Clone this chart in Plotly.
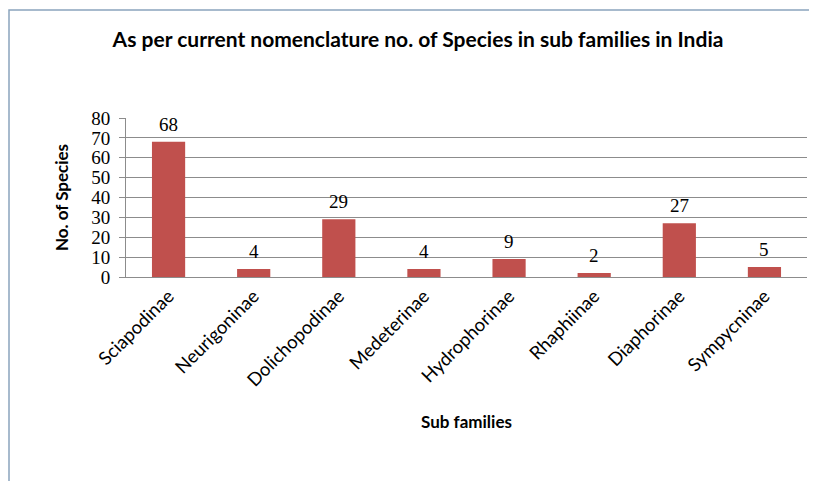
import plotly.graph_objects as go

categories = ["Sciapodinae", "Neurigoninae", "Dolichopodinae", "Medeterinae",
              "Hydrophorinae", "Rhaphiinae", "Diaphorinae", "Sympycninae"]
species = [68, 4, 29, 4, 9, 2, 27, 5]
y_ticks = [0, 10, 20, 30, 40, 50, 60, 70, 80]

W, H = 817, 481
OFF = 8  # page body offset
L, T = 126 - OFF, 118 - OFF
R = W - (807 - OFF)
B = H - (277 - OFF)
pw = W - L - R
ph = H - T - B

fig = go.Figure(go.Bar(
    x=categories, y=species,
    marker=dict(color="#C0504D", line=dict(width=0)),
    width=0.39,
))

for c, v in zip(categories, species):
    fig.add_annotation(x=c, y=v, text=str(v), showarrow=False,
                       yanchor="bottom", yshift=5,
                       font=dict(family="Liberation Serif", size=19, color="#000000"))

fig.update_layout(
    width=W, height=H,
    margin=dict(l=L, r=R, t=T, b=B, autoexpand=False),
    paper_bgcolor="white", plot_bgcolor="white",
    showlegend=False,
    title=dict(text="<b>As per current nomenclature no. of Species in sub families in India</b>",
               x=(418 - OFF - L) / pw, xref="paper", xanchor="center",
               y=1 - (40 - OFF) / H, yref="container", yanchor="middle",
               font=dict(family="Lato", size=21, color="#000000")),
    bargap=0.61,
)

fig.update_yaxes(
    range=[0, 80], tickvals=y_ticks, showgrid=True, gridcolor="#8c8c8c", gridwidth=1,
    showline=True, linecolor="#8c8c8c", linewidth=1,
    ticks="outside", ticklen=6, tickcolor="#8c8c8c", ticklabelstandoff=5,
    tickfont=dict(family="Liberation Serif", size=19, color="#000000"),
    zeroline=False,
    title=dict(text="<b>No. of Species</b>", font=dict(family="Lato", size=17, color="#000000"),
               standoff=18),
)
fig.update_xaxes(
    showline=True, linecolor="#8c8c8c", linewidth=1, showgrid=False,
    tickangle=-45, ticks="", tickfont=dict(family="Lato", size=18.5, color="#000000"),
    title=dict(text="<b>Sub families</b>", font=dict(family="Lato", size=17, color="#000000"),
               standoff=26),
)

# outer chart border (partially cropped in the reference)
fig.add_shape(type="rect", xref="paper", yref="paper",
              x0=(9 - OFF - L) / pw, x1=(W + 20 - L) / pw,
              y0=-(H + 20 - (T + ph)) / ph, y1=(T + ph - (10 - OFF)) / ph,
              line=dict(color="#8aa4bd", width=1.5), fillcolor="rgba(0,0,0,0)", layer="below")

fig.write_html("out.html")
